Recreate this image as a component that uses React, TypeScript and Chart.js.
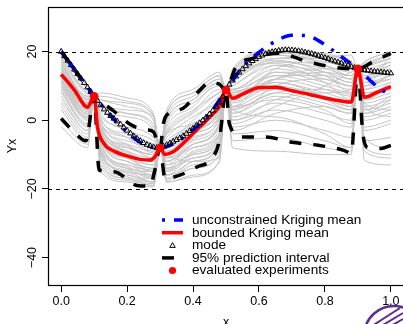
import React, { useEffect, useRef } from "react";
import { Chart, registerables } from "chart.js";

Chart.register(...registerables);

const FONT = "'Liberation Sans', Arial, Helvetica, sans-serif";

const X_TICKS = [0, 0.2, 0.4, 0.6, 0.8, 1.0];
const Y_TICKS = [-40, -20, 0, 20];
const BOUNDS = [20, -20];

const EXP_X = [0.1, 0.3, 0.5, 0.9];
const EXP_Y = [7, -8.1, 8.8, 15];

const BLUE_X = [0, 0.05, 0.1, 0.15, 0.2, 0.25, 0.3, 0.35, 0.4, 0.45, 0.5, 0.55, 0.6, 0.65, 0.7, 0.75, 0.8, 0.85, 0.9, 0.95, 1.0];
const BLUE_Y = [20, 13.5, 7, 1.3, -3.5, -7, -8.1, -6.3, -2.8, 1.8, 8.8, 15.5, 19.8, 23, 24.8, 24.5, 22, 18.5, 15, 10.5, 7];

const RED_X = [0, 0.04, 0.08, 0.1, 0.11, 0.13, 0.16, 0.2, 0.24, 0.27, 0.285, 0.3, 0.315, 0.34, 0.37, 0.42, 0.46, 0.48, 0.5, 0.52, 0.55, 0.6, 0.65, 0.7, 0.75, 0.8, 0.85, 0.88, 0.9, 0.92, 0.96, 1.0];
const RED_Y = [13.4, 8.8, 3.8, 7, -2, -6.8, -9, -10.4, -11.4, -11.6, -10.5, -8.1, -10, -9.2, -6.7, -2, 1.8, 4, 8.8, 6.4, 7.6, 9.5, 9.6, 8.6, 7.6, 6.5, 5.6, 5.3, 15, 6.7, 8.2, 9.8];

const MODE_Y = [
  20.0, 18.7, 17.4, 16.1, 14.8, 13.5, 12.2, 10.9, 9.6, 8.3,
  7.0, 5.7, 4.4, 3.2, 2.2, 1.3, 0.5, -0.3, -1.2, -2.1,
  -3.0, -3.8, -4.6, -5.3, -6.0, -6.6, -7.1, -7.5, -7.8, -8.0,
  -8.1, -7.6, -7.2, -6.7, -6.2, -5.7, -5.2, -4.6, -3.9, -3.1,
  -2.4, -1.6, -0.8, 0.0, 0.9, 1.8, 2.8, 3.9, 5.2, 6.9,
  8.8, 10.4, 11.6, 12.8, 13.9, 14.9, 15.8, 16.6, 17.3, 17.9,
  18.5, 18.9, 19.3, 19.6, 19.9, 20.1, 20.3, 20.4, 20.5, 20.5,
  20.4, 20.3, 20.2, 20.0, 19.8, 19.6, 19.4, 19.1, 18.8, 18.5,
  18.2, 17.9, 17.5, 17.2, 16.9, 16.6, 16.3, 16.0, 15.6, 15.3,
  15.0, 14.8, 14.6, 14.5, 14.3, 14.2, 14.1, 14.0, 13.9, 13.8,
  13.7,
];
const MODE_X = MODE_Y.map((_, i) => i / 100);

const UPPER_X = [0, 0.05, 0.1, 0.155, 0.215, 0.26, 0.28, 0.3, 0.31, 0.32, 0.37, 0.42, 0.45, 0.48, 0.5, 0.53, 0.58, 0.66, 0.75, 0.845, 0.88, 0.9, 0.945, 1.0];
const UPPER_Y = [20, 13.5, 7, 3, -1.5, -2.8, -3.4, -8.1, -1, 1.5, 3.5, 8.7, 11, 10.5, 8.8, 15.5, 18, 19.5, 17, 15.2, 15, 15, 17, 19.5];

const LOWER_X = [0, 0.04, 0.075, 0.1, 0.115, 0.16, 0.23, 0.27, 0.283, 0.3, 0.315, 0.36, 0.41, 0.46, 0.48, 0.5, 0.51, 0.55, 0.62, 0.7, 0.78, 0.855, 0.88, 0.9, 0.915, 0.93, 0.97, 1.0];
const LOWER_Y = [0.5, -3.5, -6, 7, -14.5, -15, -19, -19.2, -15, -8.1, -17, -16, -13.7, -10.8, -5.8, 8.8, -1, -4.9, -4.9, -6.4, -7.3, -8.7, -9.6, 15, -3.8, -7.9, -8.2, -7.3];

const GREY_X = [0, 0.08, 0.1, 0.12, 0.2, 0.28, 0.3, 0.32, 0.4, 0.48, 0.5, 0.52, 0.65, 0.8, 0.88, 0.9, 0.92, 1.0];
const GREY_CURVES = [
  [20, 10, 7, 8, 6.5, 2, -8.1, 3, 9, 14, 8.8, 15, 20.5, 19, 17, 15, 17, 20],
  [18, 8, 7, 6, 4, 0, -8.1, 1, 7, 12, 8.8, 14, 20, 19.5, 16.5, 15, 16.5, 19],
  [17, 6, 7, 3, 1, -3, -8.1, -1, 5, 10, 8.8, 13, 19, 17, 15.5, 15, 15, 17],
  [16, 7, 7, 1, -2, -5, -8.1, -3, 3, 8, 8.8, 12, 18, 18, 16, 15, 14, 16],
  [15, 5, 7, 0, -4, -7, -8.1, -5, 1, 6, 8.8, 11, 17, 15, 13, 15, 13, 15],
  [14, 4, 7, -1, -6, -8, -8.1, -6, -1, 4, 8.8, 10, 16, 14, 12, 15, 12, 14],
  [13, 3, 7, -2, -8, -10, -8.1, -8, -2, 3, 8.8, 9, 15, 12, 10, 15, 11, 13],
  [12, 2, 7, -3, -9, -11, -8.1, -9, -3, 2, 8.8, 8, 14, 11, 9, 15, 10, 12],
  [12.5, 4, 7, -4, -10, -12, -8.1, -10, -4, 1, 8.8, 7, 13, 10, 8, 15, 9, 11],
  [11, 1, 7, -5, -11, -13, -8.1, -11, -5, 0, 8.8, 6, 12, 9, 7, 15, 8, 10],
  [14, 5, 7, -6, -12, -14, -8.1, -12, -6, -1, 8.8, 7, 11, 8, 6, 15, 7, 9],
  [10, 0, 7, -7, -13, -14.5, -8.1, -13, -7, -2, 8.8, 5, 10, 7, 5, 15, 6, 8],
  [9, -1, 7, -8, -14, -15, -8.1, -14, -8, -3, 8.8, 4, 9, 6, 4, 15, 5, 7],
  [8, -2, 7, -9, -15, -16, -8.1, -15, -9, -4, 8.8, 3, 8, 5, 3, 15, 4, 6],
  [7, -3, 7, -10, -16, -17, -8.1, -16, -10, -6, 8.8, 2, 7, 4, 2, 15, 3, 5],
  [5, -4, 7, -11, -16.5, -18, -8.1, -17, -12, -8, 8.8, 1, 5, 2, 0, 15, 2, 4],
  [3, -6, 7, -12, -17, -18.5, -8.1, -17.5, -14, -10, 8.8, 0, 3, 0, -2, 15, 0, 2],
  [0, -7, 7, -14, -17.5, -19, -8.1, -18, -16, -12, 8.8, -2, 0, -3, -5, 15, -3, -1],
  [-2, -8, 7, -15, -18, -19.5, -8.1, -18, -16.5, -12, 8.8, -4, -3, -6, -8, 15, -6, -5],
  [19, 10, 7, 4, 2, -1, -8.1, -4, -1, 5, 8.8, -8, -9, -10, -10, 15, -11.7, -13],
  [16, 6, 7, -3, -7, -9, -8.1, 2, 8, 13, 8.8, 3, 1, -4, -8, 15, -9, -11],
  [13, 3, 7, 5, 3, 1, -8.1, -2, 4, 11, 8.8, -6, -5, -8, -9, 15, 10, 19],
  [11, 2, 7, -6, -11, -13, -8.1, -7, 0, 7, 8.8, 14, 19, 16, 14, 15, -8, -10],
  [18, 8, 7, -1, -5, -9, -8.1, -12, -8, -4, 8.8, 12, 20, 16, 12, 15, 17, 20],
  [15, 6, 7, -9, -13, -16, -8.1, 0, 6, 12, 8.8, 11, 18, 18.5, 19, 15, 16, 18],
  [17, 7, 7, -2, -9, -12, -8.1, -14, -11, -7, 8.8, -1, 4, 10, 14, 15, 2, 6],
  [14, 5, 7, 2, -3, -6, -8.1, -10, -12, -11, 8.8, 4, 6, 3, -1, 15, 13, 16],
  [12, 3, 7, -4, -8, -10, -8.1, -16, -14, -10, 8.8, 9, 13, 13, 11, 15, -5, -8],
  [19, 9, 7, 6, 5, 1, -8.1, 0, 6, 11, 8.8, 13, 19.5, 18, 15, 15, 16, 19],
  [10, 1, 7, -7, -14, -17, -8.1, -13, -10, -5, 8.8, 6, 15, 17, 16, 15, 11, 12],
  [6, -3, 7, -10, -15, -18, -8.1, -9, -4, 3, 8.8, 8, 12, 14, 13, 15, 9, 14],
  [15, 4, 7, -1, -10, -15, -8.1, -11, -7, -1, 8.8, 2, 10, 12, 10, 15, 4, 1],
  [18.5, 9, 7, 7, 5.5, 1.5, -8.1, 2, 8, 13, 8.8, 14.5, 20, 18.5, 17, 15, 15.5, 18],
  [13.5, 3.5, 7, -3.5, -9.5, -12, -8.1, -7, -2.5, 2.5, 8.8, 10, 17, 16, 13, 15, 12, 15],
  [11.5, 1.5, 7, -5.5, -12, -15, -8.1, -12, -7, -1.5, 8.8, 4, 14, 13, 8, 15, 8, 9],
  [9.5, 0.5, 7, -6.5, -13.5, -16, -8.1, -15, -11, -6, 8.8, 9, 16, 11, 6, 15, 5, 3],
  [16.5, 6.5, 7, -0.5, -7, -10, -8.1, -4, 2, 8, 8.8, 7.5, 9, 6, 3, 15, 14, 17],
  [8.5, -1.5, 7, -8.5, -15.5, -18, -8.1, -16, -12, -7, 8.8, 0, 6, 8, 9, 15, 7, 11],
  [12, 2.5, 7, -4.5, -11, -14, -8.1, -10, -5.5, 0.5, 8.8, 11.5, 17.5, 14, 11, 15, 10, 13],
  [15.5, 5.5, 7, 0.5, -5, -9.5, -8.1, -8, -4, 1.5, 8.8, 5.5, 12, 15, 15, 15, -2, 0],
  [4, -5, 7, -13, -17, -19, -8.1, -17, -13, -9, 8.8, -3, 2, 4, 2, 15, 1, 3],
  [14.5, 4.5, 7, -2.5, -7.5, -11, -8.1, -6.5, -1.5, 3.5, 8.8, 12.5, 16.5, 13, 10, 15, 6, 10],
  [17.5, 7.5, 7, 4.5, 2, -2, -8.1, -3.5, 2.5, 9, 8.8, 3.5, 8, 9, 7.5, 15, 12.5, 15],
  [10.5, 0.5, 7, -9.5, -14.5, -16.5, -8.1, -14.5, -9.5, -4.5, 8.8, 8.5, 11, 7, 4, 15, 3, 7],
];

const LEGEND_LABELS = [
  "unconstrained Kriging mean",
  "bounded Kriging mean",
  "mode",
  "95% prediction interval",
  "evaluated experiments",
];

const BLUE = "#0000ff";
const RED = "#ff0000";
const GREY = "#c4c4c4";

const xy = (xs: number[], ys: number[]) => xs.map((x, i) => ({ x, y: ys[i] }));

function triangle(ctx: CanvasRenderingContext2D, cx: number, cy: number, r: number) {
  ctx.beginPath();
  for (let k = 0; k < 3; k++) {
    const a = (k * 2 * Math.PI) / 3;
    const px = cx + Math.sin(a) * r;
    const py = cy - Math.cos(a) * r;
    if (k === 0) ctx.moveTo(px, py);
    else ctx.lineTo(px, py);
  }
  ctx.closePath();
  ctx.stroke();
}

const rPlugin = {
  id: "rDecor",
  beforeDatasetsDraw(chart: any) {
    const { ctx, chartArea: a, scales } = chart;
    ctx.save();
    ctx.beginPath();
    ctx.rect(a.left, a.top, a.right - a.left, a.bottom - a.top);
    ctx.clip();
    ctx.strokeStyle = "#000";
    ctx.lineWidth = 1;
    ctx.setLineDash([4, 4]);
    BOUNDS.forEach((v) => {
      const py = Math.round(scales.y.getPixelForValue(v)) + 0.5;
      ctx.beginPath();
      ctx.moveTo(a.left, py);
      ctx.lineTo(a.right, py);
      ctx.stroke();
    });
    ctx.restore();
  },
  afterDraw(chart: any) {
    const { ctx, chartArea: a, scales } = chart;
    ctx.save();
    ctx.strokeStyle = "#000";
    ctx.lineWidth = 1.2;
    ctx.setLineDash([]);
    ctx.strokeRect(a.left + 0.5, a.top + 0.5, a.right - a.left, a.bottom - a.top);

    ctx.fillStyle = "#000";
    ctx.font = `12.5px ${FONT}`;
    Y_TICKS.forEach((v) => {
      const py = scales.y.getPixelForValue(v);
      ctx.save();
      ctx.translate(35.5, py);
      ctx.rotate(-Math.PI / 2);
      ctx.textAlign = "center";
      ctx.textBaseline = "alphabetic";
      ctx.fillText(v < 0 ? "\u2212" + Math.abs(v) : String(v), 0, 0);
      ctx.restore();
    });
    ctx.save();
    ctx.translate(15.5, (a.top + a.bottom) / 2);
    ctx.rotate(-Math.PI / 2);
    ctx.textAlign = "center";
    ctx.textBaseline = "alphabetic";
    ctx.fillText("Yx", 0, 0);
    ctx.restore();
    ctx.textAlign = "center";
    ctx.textBaseline = "alphabetic";
    ctx.fillText("x", (a.left + a.right) / 2, 326);

    const x0 = 162, x1 = 183, cx = 172.5, tx = 192, base = 224, step = 12.6;
    ctx.textAlign = "left";
    ctx.font = `13.6px ${FONT}`;
    LEGEND_LABELS.forEach((lab, i) => {
      const by = base + i * step;
      const sy = by - 3.9;
      ctx.fillStyle = "#000";
      ctx.fillText(lab, tx, by);
      ctx.save();
      if (i === 0) {
        ctx.strokeStyle = BLUE; ctx.lineWidth = 3.5; ctx.setLineDash([3, 9, 12, 9]);
        ctx.beginPath(); ctx.moveTo(x0, sy); ctx.lineTo(x1, sy); ctx.stroke();
      } else if (i === 1) {
        ctx.strokeStyle = RED; ctx.lineWidth = 3.5;
        ctx.beginPath(); ctx.moveTo(x0, sy); ctx.lineTo(x1, sy); ctx.stroke();
      } else if (i === 2) {
        ctx.strokeStyle = "#000"; ctx.lineWidth = 1;
        triangle(ctx, cx, sy + 0.5, 3.2);
      } else if (i === 3) {
        ctx.strokeStyle = "#000"; ctx.lineWidth = 3.5; ctx.setLineDash([12, 12]);
        ctx.beginPath(); ctx.moveTo(x0, sy); ctx.lineTo(x1, sy); ctx.stroke();
      } else {
        ctx.fillStyle = RED;
        ctx.beginPath(); ctx.arc(cx, sy, 3.6, 0, Math.PI * 2); ctx.fill();
      }
      ctx.restore();
    });

    ctx.strokeStyle = "#5b2d8e";
    ctx.lineWidth = 2.5;
    ctx.beginPath();
    ctx.arc(394, 336, 30, Math.PI * 1.02, Math.PI * 1.6);
    ctx.stroke();
    ctx.lineWidth = 2;
    [[372, 326, 400, 308], [378, 328, 403, 313], [384, 330, 403, 319]].forEach(([ax, ay, bx, by]) => {
      ctx.beginPath(); ctx.moveTo(ax, ay); ctx.lineTo(bx, by); ctx.stroke();
    });
    ctx.restore();
  },
};

export default function App() {
  const ref = useRef<HTMLCanvasElement>(null);
  useEffect(() => {
    document.body.style.margin = "0";
    document.body.style.overflow = "hidden";
    const canvas = ref.current!;
    const datasets: any[] = [];
    GREY_CURVES.forEach((c) => {
      datasets.push({
        data: xy(GREY_X, c),
        borderColor: GREY,
        borderWidth: 1,
        pointRadius: 0,
        cubicInterpolationMode: "monotone",
        order: 10,
      });
    });
    [xy(UPPER_X, UPPER_Y), xy(LOWER_X, LOWER_Y)].forEach((d) => {
      datasets.push({
        data: d,
        borderColor: "#000",
        borderWidth: 3.5,
        borderDash: [12, 12],
        pointRadius: 0,
        cubicInterpolationMode: "monotone",
        order: 5,
      });
    });
    datasets.push({
      data: xy(RED_X, RED_Y),
      borderColor: RED,
      borderWidth: 3.5,
      pointRadius: 0,
      cubicInterpolationMode: "monotone",
      order: 4,
    });
    datasets.push({
      data: xy(BLUE_X, BLUE_Y),
      borderColor: BLUE,
      borderWidth: 3.5,
      borderDash: [3, 9, 12, 9],
      pointRadius: 0,
      cubicInterpolationMode: "monotone",
      order: 3,
    });
    datasets.push({
      data: xy(MODE_X, MODE_Y),
      showLine: false,
      pointStyle: "triangle",
      pointRadius: 3.2,
      pointBorderWidth: 1,
      pointBorderColor: "#000",
      pointBackgroundColor: "rgba(0,0,0,0)",
      order: 2,
    });
    datasets.push({
      data: xy(EXP_X, EXP_Y),
      showLine: false,
      pointStyle: "circle",
      pointRadius: 4.3,
      pointBorderWidth: 0,
      pointBackgroundColor: RED,
      order: 1,
    });

    const chart = new Chart(canvas, {
      type: "line",
      data: { datasets },
      options: {
        animation: false,
        responsive: false,
        devicePixelRatio: 1,
        layout: { padding: { top: 7, right: 8, left: 0, bottom: 0 } },
        plugins: { legend: { display: false }, tooltip: { enabled: false } },
        elements: { line: { borderCapStyle: "butt" } },
        scales: {
          x: {
            type: "linear",
            min: -0.04,
            max: 1.04,
            afterBuildTicks: (s: any) => {
              s.ticks = X_TICKS.map((v) => ({ value: v }));
            },
            afterFit: (s: any) => {
              s.height = 39;
            },
            ticks: {
              autoSkip: false,
              maxRotation: 0,
              minRotation: 0,
              padding: 2,
              color: "#000",
              font: { family: FONT, size: 12.5 },
              callback: (v: any) => Number(v).toFixed(1),
            },
            grid: { drawOnChartArea: false, drawTicks: true, tickLength: 7, tickColor: "#000", tickWidth: 1 },
            border: { display: false },
          },
          y: {
            type: "linear",
            min: -48,
            max: 33,
            afterBuildTicks: (s: any) => {
              s.ticks = Y_TICKS.map((v) => ({ value: v }));
            },
            afterFit: (s: any) => {
              s.width = 48;
            },
            ticks: { display: false },
            grid: { drawOnChartArea: false, drawTicks: true, tickLength: 6, tickColor: "#000", tickWidth: 1 },
            border: { display: false },
          },
        },
      },
      plugins: [rPlugin],
    });
    return () => chart.destroy();
  }, []);
  return <canvas ref={ref} width={412} height={324} style={{ display: "block" }} />;
}
